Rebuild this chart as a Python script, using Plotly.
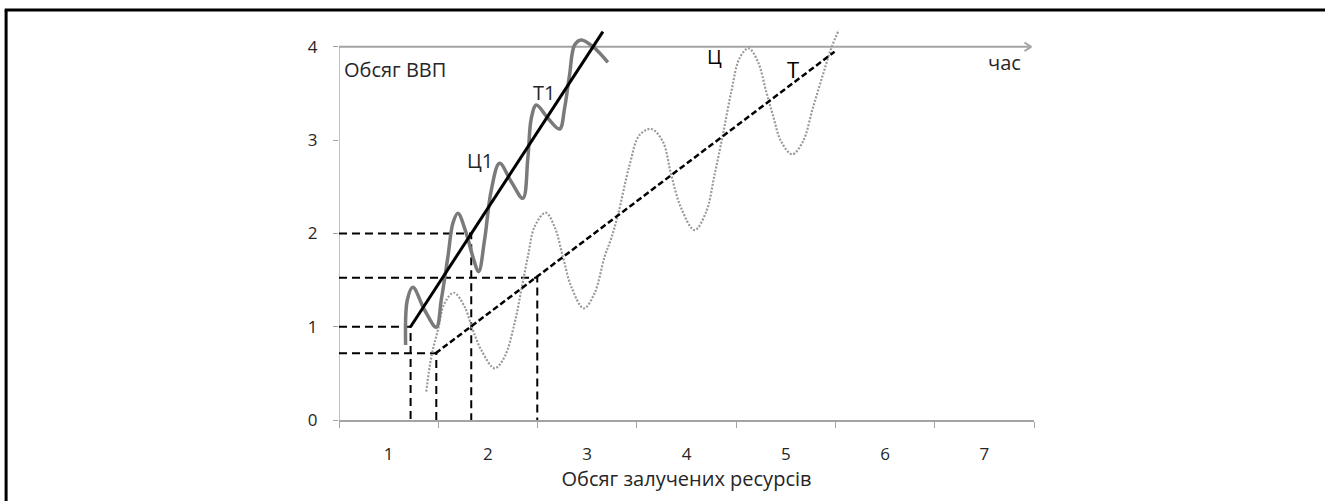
import plotly.graph_objects as go

# Category tick labels (x) and value ticks (y)
x_categories = ["1", "2", "3", "4", "5", "6", "7"]
x_category_pos = [1, 2, 3, 4, 5, 6, 7]
y_ticks = [0, 1, 2, 3, 4]

# Ц1 – cyclical curve around the steep trend (grey solid)
c1_x = [1.171, 1.188, 1.244, 1.362, 1.480, 1.530, 1.597, 1.647, 1.697, 1.782, 1.848, 1.906,
        1.966, 2.034, 2.117, 2.235, 2.352, 2.402, 2.437, 2.487, 2.604, 2.722, 2.772, 2.822,
        2.873, 2.940, 3.057, 3.208]
c1_y = [0.804, 1.286, 1.422, 1.179, 0.994, 1.286, 1.750, 2.108, 2.215, 2.001, 1.750, 1.590,
        1.929, 2.465, 2.751, 2.554, 2.376, 2.805, 3.234, 3.376, 3.234, 3.119, 3.341, 3.698,
        4.019, 4.073, 4.001, 3.834]

# Т1 – steep trend (black solid)
t1_x = [1.221, 3.158]
t1_y = [1.0, 4.162]

# Ц – cyclical curve around the flat trend (grey dotted)
c_x = [1.379, 1.430, 1.496, 1.563, 1.657, 1.765, 1.848, 1.933, 2.067, 2.168, 2.268, 2.336,
       2.402, 2.470, 2.581, 2.671, 2.755, 2.839, 2.966, 3.074, 3.175, 3.242, 3.309, 3.427,
       3.527, 3.645, 3.762, 3.846, 3.947, 4.081, 4.199, 4.282, 4.366, 4.451, 4.534, 4.625,
       4.719, 4.803, 4.870, 4.954, 5.065, 5.172, 5.272, 5.373, 5.458, 5.534]
c_y = [0.303, 0.678, 0.965, 1.251, 1.364, 1.214, 0.965, 0.750, 0.554, 0.678, 1.036, 1.393,
       1.750, 2.072, 2.222, 2.072, 1.750, 1.429, 1.197, 1.358, 1.750, 1.947, 2.197, 2.733,
       3.055, 3.119, 2.983, 2.626, 2.269, 2.036, 2.233, 2.626, 3.055, 3.519, 3.877, 3.984,
       3.840, 3.519, 3.269, 2.983, 2.848, 2.983, 3.341, 3.698, 3.984, 4.180]

# Т – flat trend (black dashed)
t_x = [1.473, 5.491]
t_y = [0.715, 3.947]

# Projection (drop) lines: x value, y value
drop_x = [1.221, 1.48, 1.832, 2.497]
drop_y = [1.0, 0.715, 2.0, 1.525]

X0 = 0.5
X1 = 7.5
Y_TOP_AXIS = 4
ARROW_TIP = 7.472

AXIS_GREY = "#a3a3a3"
TEXT = "#262626"
FONT = "Open Sans"
LABEL_SIZE = 20
TICK_SIZE = 17

fig = go.Figure()

# drop lines
for dx, dy in zip(drop_x, drop_y):
    fig.add_trace(go.Scatter(x=[X0, dx, dx], y=[dy, dy, 0], mode="lines",
                             line=dict(color="black", width=2, dash="8px,5px"),
                             hoverinfo="skip", showlegend=False))

fig.add_trace(go.Scatter(x=c_x, y=c_y, mode="lines",
                         line=dict(color="#9a9a9a", width=2.2, dash="2px,1.6px", shape="spline"),
                         showlegend=False))
fig.add_trace(go.Scatter(x=t_x, y=t_y, mode="lines",
                         line=dict(color="black", width=2.5, dash="6px,3px"),
                         showlegend=False))
fig.add_trace(go.Scatter(x=c1_x, y=c1_y, mode="lines",
                         line=dict(color="#7a7a7a", width=3.5, shape="spline"),
                         showlegend=False))
fig.add_trace(go.Scatter(x=t1_x, y=t1_y, mode="lines",
                         line=dict(color="black", width=3),
                         showlegend=False))

shapes = [
    # left axis line
    dict(type="line", xref="x", yref="y", x0=X0, x1=X0, y0=0, y1=Y_TOP_AXIS,
         line=dict(color=AXIS_GREY, width=1.3), layer="below"),
    # top "time" axis with arrow
    dict(type="line", xref="x", yref="y", x0=X0, x1=ARROW_TIP, y0=Y_TOP_AXIS, y1=Y_TOP_AXIS,
         line=dict(color=AXIS_GREY, width=2), layer="below"),
    dict(type="line", xref="x", yref="y", x0=7.404, x1=ARROW_TIP, y0=4.046, y1=Y_TOP_AXIS,
         line=dict(color=AXIS_GREY, width=2)),
    dict(type="line", xref="x", yref="y", x0=7.404, x1=ARROW_TIP, y0=3.955, y1=Y_TOP_AXIS,
         line=dict(color=AXIS_GREY, width=2)),
    # outer frame (left and top)
    dict(type="line", xref="paper", yref="paper", x0=-0.479, x1=-0.479, y0=1.0328, y1=-0.25,
         line=dict(color="black", width=3)),
    dict(type="line", xref="paper", yref="paper", x0=-0.481, x1=1.45, y0=1.0328, y1=1.0328,
         line=dict(color="black", width=3)),
]

annotations = [
    dict(x=0.526, y=3.762, text="Обсяг ВВП", xanchor="left", yanchor="middle", showarrow=False,
         font=dict(size=LABEL_SIZE, color=TEXT, family=FONT)),
    dict(x=7.203, y=3.837, text="час", xanchor="center", yanchor="middle", showarrow=False,
         font=dict(size=LABEL_SIZE, color=TEXT, family=FONT)),
    dict(x=5.068, y=3.762, text="Т", xanchor="center", yanchor="middle", showarrow=False,
         font=dict(size=LABEL_SIZE + 2, color="black", family=FONT)),
    dict(x=4.282, y=3.891, text="Ц", xanchor="center", yanchor="middle", showarrow=False,
         font=dict(size=LABEL_SIZE, color="black", family=FONT)),
    dict(x=2.560, y=3.510, text="Т1", xanchor="center", yanchor="middle", showarrow=False,
         font=dict(size=LABEL_SIZE, color=TEXT, family=FONT)),
    dict(x=1.921, y=2.776, text="Ц1", xanchor="center", yanchor="middle", showarrow=False,
         font=dict(size=LABEL_SIZE, color=TEXT, family=FONT)),
]

fig.update_layout(
    width=1325, height=501,
    margin=dict(l=339, r=291, t=23, b=81, pad=0),
    paper_bgcolor="white", plot_bgcolor="white",
    font=dict(family=FONT, color=TEXT),
    shapes=shapes, annotations=annotations,
    showlegend=False,
)
fig.update_xaxes(
    range=[X0, X1], tickmode="array", tickvals=x_category_pos, ticktext=x_categories,
    ticks="", showgrid=False, zeroline=False,
    showline=True, linecolor=AXIS_GREY, linewidth=2,
    tickfont=dict(size=TICK_SIZE, color=TEXT, family=FONT), ticklabelstandoff=18,
    minor=dict(tickmode="linear", tick0=0.5, dtick=1, ticks="outside", ticklen=6,
               tickcolor=AXIS_GREY, tickwidth=1.3, showgrid=False),
    title=dict(text="Обсяг залучених ресурсів", font=dict(size=LABEL_SIZE, color=TEXT, family=FONT),
               standoff=0),
)
fig.update_yaxes(
    range=[0, 4.255], tickmode="array", tickvals=y_ticks, ticks="outside", ticklen=5,
    tickcolor=AXIS_GREY, tickwidth=1.3, showgrid=False, zeroline=False, showline=False,
    tickfont=dict(size=TICK_SIZE, color=TEXT, family=FONT), ticklabelstandoff=12,
)

fig.write_html("out.html", config={"displayModeBar": False},
               post_script="document.body.style.margin='0';document.body.style.overflow='hidden';")
